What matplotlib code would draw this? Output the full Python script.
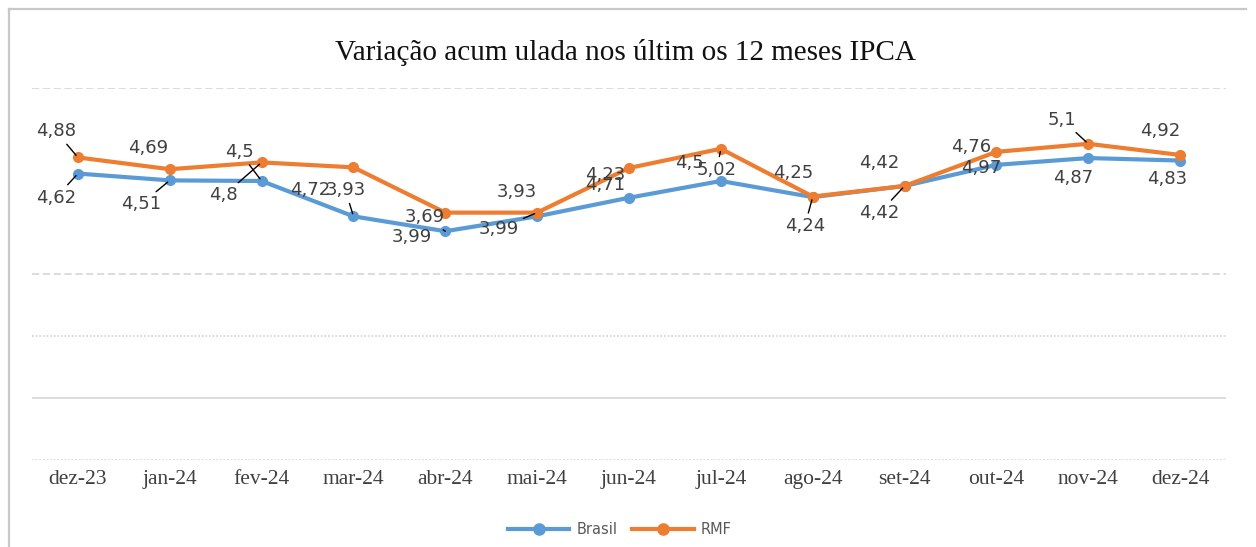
import matplotlib
matplotlib.use("Agg")
import matplotlib.pyplot as plt
from matplotlib.lines import Line2D

# ---- data ----
categories = ["dez-23", "jan-24", "fev-24", "mar-24", "abr-24", "mai-24", "jun-24",
              "jul-24", "ago-24", "set-24", "out-24", "nov-24", "dez-24"]
brasil = [4.62, 4.51, 4.5, 3.93, 3.69, 3.93, 4.23, 4.5, 4.24, 4.42, 4.76, 4.87, 4.83]
rmf = [4.88, 4.69, 4.8, 4.72, 3.99, 3.99, 4.71, 5.02, 4.25, 4.42, 4.97, 5.1, 4.92]
title = "Variação acum ulada nos últim os 12 meses IPCA"

# ---- label placement (pixel offsets from each point, image y downwards) ----
brasil_off = [(-22, 24), (-29, 24), (-22, -29), (-8, -26), (-21, -14), (-20, -24),
              (-24, -23), (-31, -18), (-8, 29), (-25, 27), (-25, -18), (-15, 20), (-13, 18)]
brasil_lead = [1, 1, 1, 1, 1, 0, 0, 0, 1, 1, 0, 0, 0]
rmf_off = [(-22, -26), (-22, -21), (-38, 33), (-43, 23), (-33, 24), (-38, 16),
           (-24, 17), (-4, 21), (-20, -24), (-25, -23), (-15, 16), (-26, -24), (-20, -24)]
rmf_lead = [1, 0, 1, 0, 0, 1, 0, 1, 0, 0, 0, 1, 0]

BLUE = "#5B9BD5"
ORANGE = "#ED7D31"
W, H = 1256, 547

fig = plt.figure(figsize=(W / 100, H / 100), dpi=100)
fig.patch.set_facecolor("white")

# frame lines of the chart area
fig.add_artist(Line2D([9 / W, 9 / W], [0, 1 - 9 / H], transform=fig.transFigure,
                      color="#c8c8c8", lw=1.6))
fig.add_artist(Line2D([9 / W, 1246 / W], [1 - 9 / H, 1 - 9 / H], transform=fig.transFigure,
                      color="#c8c8c8", lw=1.6))

ax = fig.add_axes([32 / W, 1 - 460 / H, 1194 / W, 372 / H])
x = list(range(len(categories)))
ax.set_xlim(-0.5, len(categories) - 0.5)
ax.set_ylim(0, 6)

# gridlines
for yv, ls in [(6, (0, (4, 2))), (3, (0, (4, 2))), (2, (0, (1, 1))), (1, "-"), (0, (0, (1, 1)))]:
    ax.axhline(yv, color="#d9d9d9", lw=1.3, ls=ls, zorder=0)

ax.plot(x, brasil, color=BLUE, lw=3, marker="o", ms=7, label="Brasil", zorder=3)
ax.plot(x, rmf, color=ORANGE, lw=3, marker="o", ms=7, label="RMF", zorder=4)

def fmt(v):
    return f"{v:g}".replace(".", ",")

for series, offs, leads in [(brasil, brasil_off, brasil_lead), (rmf, rmf_off, rmf_lead)]:
    for i, v in enumerate(series):
        dx, dy = offs[i]
        ap = dict(arrowstyle="-", color="black", lw=1, shrinkA=1, shrinkB=2) if leads[i] else None
        ax.annotate(fmt(v), xy=(i, v), xytext=(dx, -dy), textcoords="offset pixels",
                    ha="center", va="center", fontsize=13, color="#404040",
                    fontfamily="DejaVu Sans", arrowprops=ap, zorder=5)

for s in ax.spines.values():
    s.set_visible(False)
ax.set_yticks([])
ax.set_xticks(x)
ax.set_xticklabels(categories, fontfamily="Liberation Serif", fontsize=15.5, color="#404040")
ax.tick_params(axis="x", length=0, pad=7)

fig.text(625 / W, 1 - 52 / H, title, ha="center", va="center",
         fontfamily="Liberation Serif", fontsize=21, color="#111111")

leg = fig.legend(loc="center", bbox_to_anchor=(620 / W, 1 - 530 / H), ncol=2,
                 frameon=False, prop={"family": "DejaVu Sans", "size": 10.5},
                 handlelength=4.2, columnspacing=1.0, handletextpad=0.5,
                 markerscale=1.15)
for t in leg.get_texts():
    t.set_color("#595959")

fig.savefig("out.png", dpi=100, facecolor="white")
